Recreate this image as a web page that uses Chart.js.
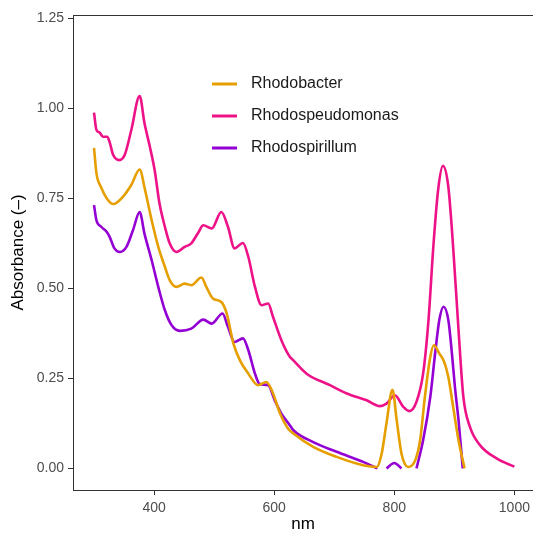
<!DOCTYPE html>
<html>
<head>
<meta charset="utf-8">
<script src="https://cdn.jsdelivr.net/npm/chart.js@4/dist/chart.umd.min.js"></script>
<style>
  html, body { margin: 0; padding: 0; background: #fff; }
  #chart { display: block; }
</style>
</head>
<body>
<canvas id="chart" width="533" height="535"></canvas>
<script>
(function () {
    "use strict";

    // Data (nm / absorbance)
    const seriesNames = ["Rhodobacter", "Rhodospeudomonas", "Rhodospirillum"];
    const seriesColors = ["#E69F00", "#EE1289", "#9400D3"];

    const rhodobacterNm = [
        300, 304, 312, 321, 332, 348, 362, 376, 385, 396, 407, 418, 426, 437,
        451, 462, 479, 487, 498, 512, 521, 532, 543, 557, 573, 587, 596, 610,
        623, 632, 665, 704, 748, 771, 779, 787, 797, 804, 812, 823, 835, 843,
        851, 860, 866, 875, 883, 890, 898, 907, 917,
    ];
    const rhodobacterAbs = [
        0.89, 0.82, 0.78, 0.75, 0.734, 0.754, 0.787, 0.83, 0.773, 0.689, 0.615,
        0.56, 0.523, 0.504, 0.513, 0.509, 0.53, 0.504, 0.472, 0.462, 0.43,
        0.347, 0.3, 0.263, 0.231, 0.24, 0.217, 0.152, 0.111, 0.097, 0.06,
        0.032, 0.009, 0.004, 0.041, 0.125, 0.218, 0.134, 0.041, 0.004, 0.023,
        0.078, 0.199, 0.31, 0.342, 0.319, 0.296, 0.254, 0.171, 0.078, 0.0,
    ];

    const rhodospeudomonasNm = [
        300, 304, 309, 315, 322, 326, 332, 342, 351, 362, 376, 384, 393, 401,
        409, 418, 426, 437, 451, 462, 473, 482, 496, 512, 523, 534, 548, 557,
        568, 579, 590, 598, 612, 626, 632, 654, 693, 721, 754, 776, 787, 801,
        815, 825, 837, 848, 857, 865, 873, 881, 890, 898, 907, 915, 926, 943,
        971, 1000,
    ];
    const rhodospeudomonasAbs = [
        0.988, 0.94, 0.933, 0.921, 0.921, 0.906, 0.87, 0.856, 0.87, 0.939,
        1.034, 0.959, 0.893, 0.828, 0.736, 0.671, 0.625, 0.601, 0.615, 0.625,
        0.653, 0.675, 0.666, 0.712, 0.671, 0.611, 0.626, 0.587, 0.504, 0.453,
        0.458, 0.421, 0.356, 0.31, 0.3, 0.263, 0.231, 0.208, 0.189, 0.173,
        0.18, 0.203, 0.171, 0.159, 0.185, 0.263, 0.412, 0.615, 0.773, 0.84,
        0.782, 0.615, 0.384, 0.199, 0.115, 0.064, 0.027, 0.005,
    ];

    // null = below the axis (dropped, the line breaks there)
    const rhodospirillumNm = [
        300, 304, 312, 321, 326, 334, 343, 354, 365, 376, 384, 396, 407, 418,
        429, 443, 462, 482, 496, 514, 523, 534, 548, 557, 568, 576, 590, 601,
        612, 626, 632, 665, 704, 748, 772, 780, 787, 800, 812, 825, 837, 848,
        860, 868, 875, 882, 890, 896, 901, 907, 914,
    ];
    const rhodospirillumAbs = [
        0.731, 0.689, 0.671, 0.657, 0.643, 0.611, 0.601, 0.615, 0.662, 0.712,
        0.652, 0.578, 0.504, 0.439, 0.398, 0.382, 0.388, 0.413, 0.402, 0.43,
        0.393, 0.351, 0.361, 0.328, 0.263, 0.234, 0.231, 0.189, 0.152, 0.12,
        0.106, 0.073, 0.046, 0.018, 0.0, null, 0.0, 0.015, 0.0, null, 0.0,
        0.078, 0.199, 0.319, 0.412, 0.449, 0.412, 0.319, 0.226, 0.134, 0.0,
    ];

    const xTicks = [400, 600, 800, 1000];
    const yTicks = [0, 0.25, 0.5, 0.75, 1, 1.25];

    const toPoints = (xs, ys) => xs.map((x, i) => ({ x: x, y: ys[i] }));
    const allNm = [rhodobacterNm, rhodospeudomonasNm, rhodospirillumNm];
    const allAbs = [rhodobacterAbs, rhodospeudomonasAbs, rhodospirillumAbs];

    const FONT = "'Liberation Sans', Arial, Helvetica, sans-serif";
    const AXIS = "#333333";

    // top frame line + legend inside the panel
    const panelExtras = {
        id: "panelExtras",
        afterDraw(chart) {
            const ctx = chart.ctx;
            const area = chart.chartArea;
            ctx.save();
            ctx.strokeStyle = AXIS;
            ctx.lineWidth = 1;
            ctx.beginPath();
            ctx.moveTo(area.left, area.top + 0.5);
            ctx.lineTo(chart.width, area.top + 0.5);
            ctx.stroke();

            const keyX = area.left + 139;
            const rowY = area.top + 69;
            ctx.font = "16px " + FONT;
            ctx.textBaseline = "middle";
            ctx.textAlign = "left";
            seriesNames.forEach((name, i) => {
                const y = rowY + i * 32;
                ctx.strokeStyle = seriesColors[i];
                ctx.lineWidth = 3;
                ctx.beginPath();
                ctx.moveTo(keyX, y);
                ctx.lineTo(keyX + 25, y);
                ctx.stroke();
                ctx.fillStyle = "#1a1a1a";
                ctx.fillText(name, keyX + 39, y);
            });
            ctx.restore();
        },
    };

    const ctx = document.getElementById("chart").getContext("2d");
    new Chart(ctx, {
        type: "line",
        data: {
            datasets: seriesNames.map((name, i) => ({
                label: name,
                data: toPoints(allNm[i], allAbs[i]),
                borderColor: seriesColors[i],
                backgroundColor: seriesColors[i],
                borderWidth: 2.6,
                pointRadius: 0,
                fill: false,
                spanGaps: false,
                cubicInterpolationMode: "monotone",
            })),
        },
        options: {
            responsive: false,
            animation: false,
            devicePixelRatio: 1,
            layout: {
                padding: { top: 15, right: 0, bottom: 0, left: 0 },
            },
            plugins: {
                legend: { display: false },
                tooltip: { enabled: false },
            },
            scales: {
                x: {
                    type: "linear",
                    min: 265,
                    max: 1031,
                    afterBuildTicks(axis) {
                        axis.ticks = xTicks.map((v) => ({ value: v }));
                    },
                    afterFit(axis) {
                        axis.height = 45;
                        axis.paddingLeft = 0;
                        axis.paddingRight = 0;
                    },
                    ticks: {
                        font: { family: FONT, size: 14 },
                        color: "#4D4D4D",
                        padding: 5,
                        maxRotation: 0,
                        autoSkip: false,
                        callback: (v) => String(v),
                    },
                    grid: {
                        display: true,
                        drawOnChartArea: false,
                        tickLength: 5,
                        tickColor: AXIS,
                    },
                    border: { display: true, color: AXIS, width: 1 },
                    title: {
                        display: true,
                        text: "nm",
                        font: { family: FONT, size: 17 },
                        color: "#000",
                        padding: { top: 0, bottom: 0 },
                    },
                },
                y: {
                    type: "linear",
                    min: -0.06,
                    max: 1.259,
                    afterBuildTicks(axis) {
                        axis.ticks = yTicks.map((v) => ({ value: v }));
                    },
                    afterFit(axis) {
                        axis.width = 73;
                        axis.paddingTop = 0;
                        axis.paddingBottom = 0;
                    },
                    ticks: {
                        font: { family: FONT, size: 14 },
                        color: "#4D4D4D",
                        padding: 4,
                        callback: (v) => Number(v).toFixed(2),
                    },
                    grid: {
                        display: true,
                        drawOnChartArea: false,
                        tickLength: 5,
                        tickColor: AXIS,
                    },
                    border: { display: true, color: AXIS, width: 1 },
                    title: {
                        display: true,
                        text: "Absorbance (\u2013)",
                        font: { family: FONT, size: 17 },
                        color: "#000",
                        padding: { top: 8, bottom: 0 },
                    },
                },
            },
        },
        plugins: [panelExtras],
    });
})();
</script>
</body>
</html>
